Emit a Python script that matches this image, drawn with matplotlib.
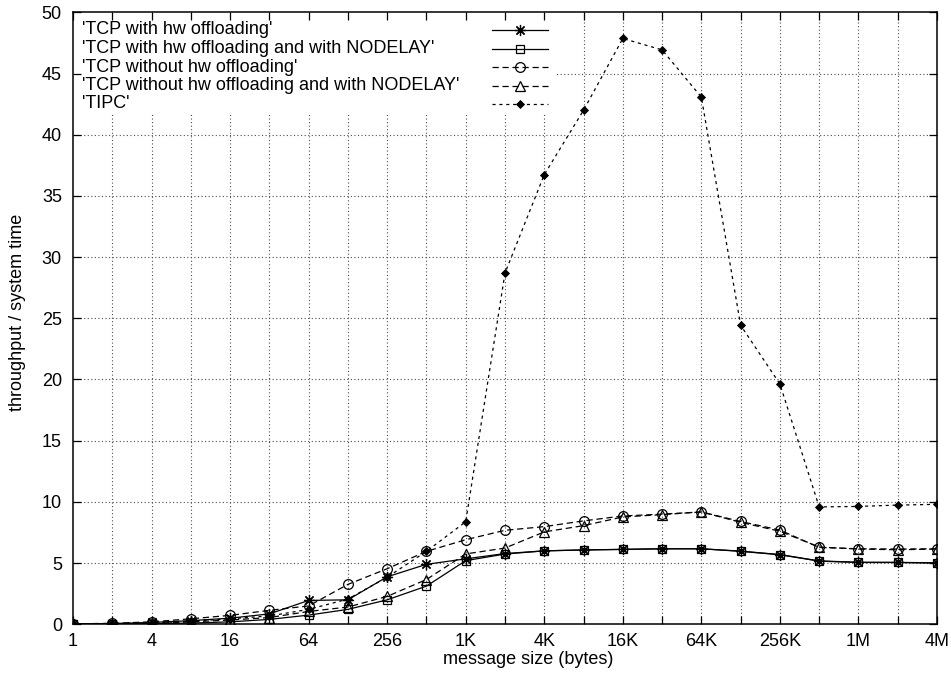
import numpy as np
import matplotlib
matplotlib.use("Agg")
import matplotlib.pyplot as plt
from matplotlib.lines import Line2D
from matplotlib.patches import Rectangle
from matplotlib.ticker import FixedLocator, NullFormatter

plt.rcParams['font.family'] = ['Liberation Sans', 'DejaVu Sans']

# message sizes: 1 byte .. 4 MB, one point per power of two
exponents = list(range(0, 23))
sizes = [2 ** e for e in exponents]

tcp_hw = [0.03, 0.06, 0.15, 0.30, 0.50, 0.85, 1.95, 2.00, 3.88, 4.90, 5.35, 5.78,
          6.00, 6.08, 6.12, 6.17, 6.17, 5.98, 5.70, 5.18, 5.07, 5.06, 5.02]
tcp_hw_nodelay = [0.02, 0.03, 0.05, 0.10, 0.20, 0.40, 0.75, 1.22, 2.00, 3.12, 5.20, 5.74,
                  6.00, 6.07, 6.12, 6.17, 6.17, 5.96, 5.68, 5.16, 5.05, 5.05, 5.00]
tcp_nohw = [0.04, 0.08, 0.20, 0.45, 0.73, 1.14, 1.50, 3.26, 4.54, 5.96, 6.91, 7.68,
            7.98, 8.45, 8.85, 9.00, 9.18, 8.40, 7.70, 6.28, 6.17, 6.15, 6.17]
tcp_nohw_nodelay = [0.02, 0.04, 0.08, 0.20, 0.35, 0.55, 1.05, 1.41, 2.28, 3.66, 5.75, 6.23,
                    7.55, 8.06, 8.77, 8.96, 9.18, 8.33, 7.60, 6.31, 6.15, 6.09, 6.15]
tipc = [0.03, 0.05, 0.12, 0.25, 0.45, 0.68, 1.22, 2.06, 3.85, 5.96, 8.38, 28.70,
        36.74, 42.00, 47.86, 46.93, 43.07, 24.43, 19.63, 9.59, 9.63, 9.74, 9.80]

series_labels = ["'TCP with hw offloading'",
                 "'TCP with hw offloading and with NODELAY'",
                 "'TCP without hw offloading'",
                 "'TCP without hw offloading and with NODELAY'",
                 "'TIPC'"]

xtick_values = [1, 4, 16, 64, 256, 1024, 4096, 16384, 65536, 262144, 1048576, 4194304]
xtick_labels = ['1', '4', '16', '64', '256', '1K', '4K', '16K', '64K', '256K', '1M', '4M']
ytick_values = list(range(0, 51, 5))

W, H = 951, 673
FS = 13

fig = plt.figure(figsize=(W / 100, H / 100), dpi=100)
ax = fig.add_axes([73 / W, 1 - 624.3 / H, (937 - 73) / W, (624.3 - 12.3) / H])

ax.set_xscale('log', base=2)
ax.set_xlim(1, 4194304)
ax.set_ylim(0, 50)

# grid: dotted lines at every power of two and every 5 units
grid_kw = dict(color='0.3', linestyle=(0, (1, 2.2)), linewidth=0.8, zorder=0.5)
for s in sizes[1:-1]:
    ax.axvline(s, **grid_kw)
for v in ytick_values[1:-1]:
    ax.axhline(v, **grid_kw)

styles = [
    dict(linestyle='-', marker=(8, 2, 0), markersize=8, markerfacecolor='black', markeredgewidth=0.9),
    dict(linestyle='-', marker='s', markersize=6, markerfacecolor='none', markeredgewidth=0.9),
    dict(linestyle=(0, (5, 3)), marker='o', markersize=7, markerfacecolor='none', markeredgewidth=0.9),
    dict(linestyle=(0, (5, 3)), marker='^', markersize=6.5, markerfacecolor='none', markeredgewidth=0.9),
    dict(linestyle=(0, (2.5, 3)), marker='D', markersize=4.5, markerfacecolor='black', markeredgewidth=0.6),
]
series = [tcp_hw, tcp_hw_nodelay, tcp_nohw, tcp_nohw_nodelay, tipc]

for vals, st in zip(series, styles):
    ax.plot(sizes, vals, color='black', lw=0.9, zorder=3, **st)

# ticks
ax.xaxis.set_major_locator(FixedLocator(xtick_values))
ax.set_xticklabels(xtick_labels)
ax.xaxis.set_minor_locator(FixedLocator(sizes))
ax.xaxis.set_minor_formatter(NullFormatter())
ax.set_yticks(ytick_values)
ax.tick_params(axis='both', which='both', direction='in', length=6, width=0.9,
               top=True, right=True, labelsize=FS, colors='black')
ax.tick_params(axis='x', which='major', pad=6)
ax.tick_params(axis='y', which='major', pad=8)
for sp in ax.spines.values():
    sp.set_linewidth(1.1)

# key: left-aligned titles with line samples to their right, on a white patch
ax.add_patch(Rectangle((73 / W, 1 - 114 / H), (556 - 73) / W, (114 - 12.3) / H,
                       transform=fig.transFigure, facecolor='white', edgecolor='none', zorder=1))
for i, (lab, st) in enumerate(zip(series_labels, styles)):
    yc = 1 - (30 + 18.5 * i) / H
    fig.text(82 / W, yc, lab, ha='left', va='center', fontsize=FS)
    fig.add_artist(Line2D([492 / W, 548 / W], [yc, yc], transform=fig.transFigure,
                          color='black', lw=0.9, linestyle=st['linestyle']))
    fig.add_artist(Line2D([520 / W], [yc], transform=fig.transFigure, color='black',
                          linestyle='none', marker=st['marker'], markersize=st['markersize'],
                          markerfacecolor=st['markerfacecolor'],
                          markeredgewidth=st['markeredgewidth']))

fig.text(528 / W, 1 - 660 / H, 'message size (bytes)', ha='center', va='center', fontsize=FS)
fig.text(18 / W, 1 - 312 / H, 'throughput / system time', ha='center', va='center',
         rotation=90, fontsize=FS)

fig.savefig('out.png', dpi=100)
